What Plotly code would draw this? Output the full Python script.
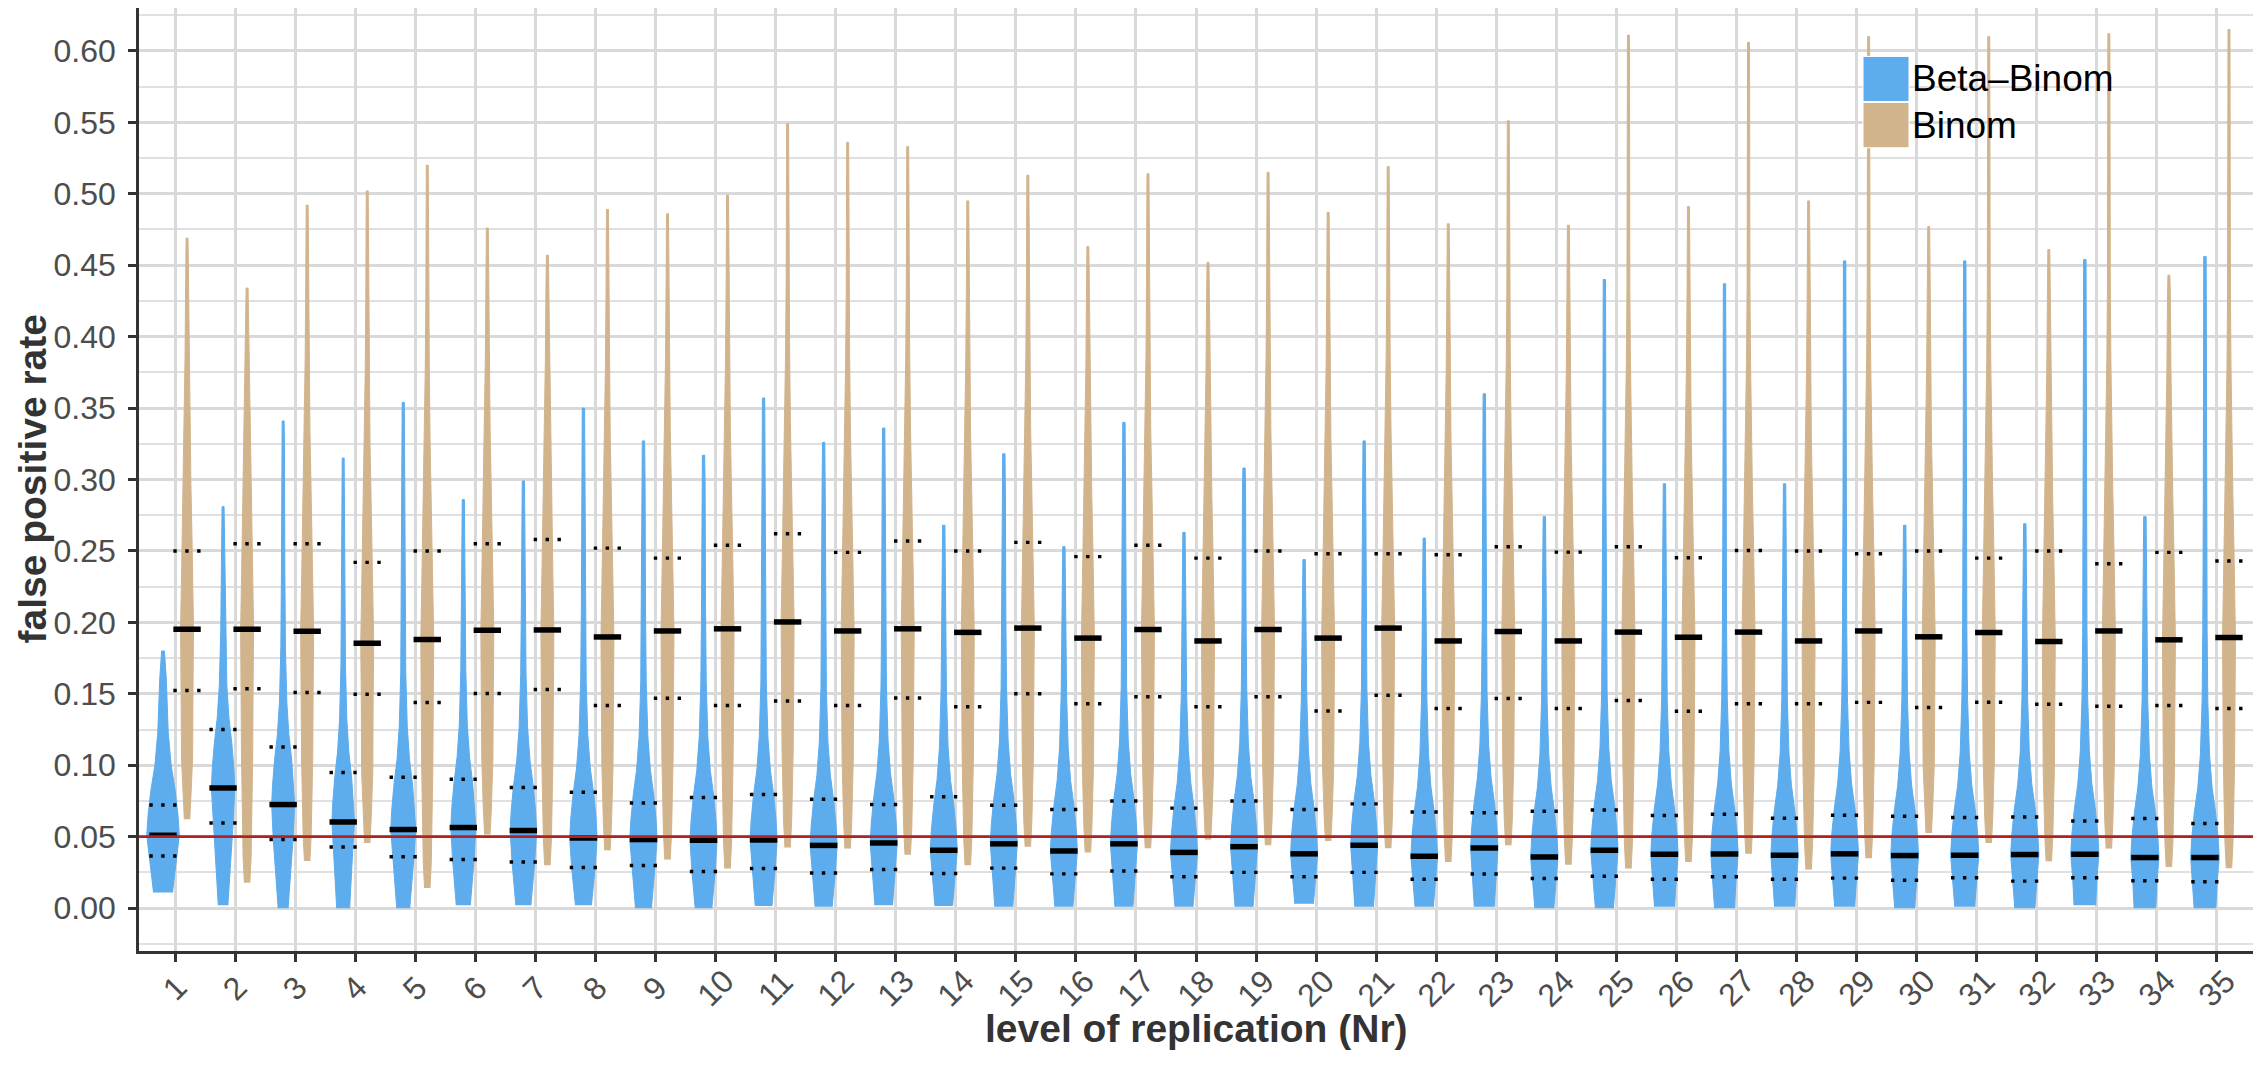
import plotly.graph_objects as go

# ---------------- data ----------------
nr_levels = list(range(1, 36))
tick_labels = [str(i) for i in nr_levels]

# Beta-Binom group
bb_min = [0.011, 0.002, 0.000, 0.000, 0.000, 0.002, 0.002, 0.002, 0.000, 0.000,
          0.0015, 0.001, 0.002, 0.0015, 0.001, 0.001, 0.001, 0.001, 0.001, 0.003,
          0.001, 0.001, 0.001, 0.000, 0.000, 0.001, 0.000, 0.001, 0.001, 0.000,
          0.001, 0.000, 0.002, 0.000, 0.000]
bb_max = [0.180, 0.281, 0.341, 0.315, 0.354, 0.286, 0.299, 0.350, 0.327, 0.317,
          0.357, 0.326, 0.336, 0.268, 0.318, 0.253, 0.340, 0.263, 0.308, 0.244,
          0.327, 0.259, 0.360, 0.274, 0.440, 0.297, 0.437, 0.297, 0.453, 0.268,
          0.453, 0.269, 0.454, 0.274, 0.456]
bb_q1 = [0.0365, 0.0596, 0.048, 0.0428, 0.036, 0.034, 0.0323, 0.0284, 0.0298, 0.0256,
         0.0277, 0.0246, 0.027, 0.0242, 0.028, 0.024, 0.026, 0.022, 0.025, 0.022,
         0.025, 0.0202, 0.0239, 0.0207, 0.0223, 0.0202, 0.022, 0.0202, 0.021, 0.0195,
         0.0213, 0.0189, 0.0213, 0.0192, 0.0185]
bb_med = [0.051, 0.0841, 0.0725, 0.0603, 0.055, 0.0564, 0.0543, 0.0491, 0.048, 0.0475,
          0.0477, 0.0439, 0.0456, 0.0405, 0.045, 0.040, 0.045, 0.039, 0.043, 0.038,
          0.044, 0.0363, 0.0421, 0.0358, 0.0405, 0.0377, 0.0379, 0.037, 0.038, 0.0368,
          0.037, 0.0375, 0.0377, 0.0354, 0.0354]
bb_q3 = [0.0722, 0.125, 0.1128, 0.0949, 0.0916, 0.0902, 0.0844, 0.0811, 0.0736, 0.0774,
         0.0795, 0.0762, 0.0725, 0.078, 0.072, 0.069, 0.075, 0.070, 0.075, 0.069,
         0.073, 0.0673, 0.0668, 0.0678, 0.0687, 0.0648, 0.0657, 0.0629, 0.065, 0.0643,
         0.0634, 0.0638, 0.061, 0.0627, 0.0592]
# half-widths (x-axis units) at the widest point and at the trimmed bottom
bb_wmax = [0.271, 0.195, 0.191, 0.188, 0.208, 0.208, 0.22, 0.228, 0.228, 0.225,
           0.225, 0.225, 0.225, 0.225, 0.225, 0.225, 0.225, 0.225, 0.225, 0.225,
           0.225, 0.222, 0.228, 0.228, 0.228, 0.228, 0.228, 0.228, 0.232, 0.232,
           0.235, 0.235, 0.235, 0.235, 0.238]
bb_wbot = [0.158, 0.080, 0.083, 0.108, 0.108, 0.117, 0.125, 0.133, 0.133, 0.139,
           0.139, 0.142, 0.147, 0.147, 0.150, 0.150, 0.150, 0.150, 0.150, 0.155,
           0.155, 0.153, 0.166, 0.158, 0.150, 0.166, 0.166, 0.166, 0.166, 0.166,
           0.166, 0.166, 0.180, 0.180, 0.180]

# Binom group
bn_min = [0.0622, 0.0178, 0.033, 0.0456, 0.0141, 0.0515, 0.030, 0.0405, 0.034, 0.0277,
          0.0424, 0.0417, 0.0374, 0.030, 0.043, 0.039, 0.042, 0.048, 0.044, 0.047,
          0.042, 0.0323, 0.044, 0.0304, 0.0277, 0.0323, 0.038, 0.027, 0.035, 0.0526,
          0.0456, 0.0328, 0.0417, 0.0288, 0.028]
bn_max = [0.469, 0.434, 0.492, 0.502, 0.520, 0.476, 0.457, 0.489, 0.486, 0.499,
          0.549, 0.536, 0.533, 0.495, 0.513, 0.463, 0.514, 0.452, 0.515, 0.487,
          0.519, 0.479, 0.551, 0.478, 0.611, 0.491, 0.606, 0.495, 0.610, 0.477,
          0.610, 0.461, 0.612, 0.443, 0.615]
bn_q1 = [0.1523, 0.1535, 0.1509, 0.1497, 0.1439, 0.1502, 0.153, 0.1418, 0.1469, 0.1418,
         0.145, 0.1418, 0.1471, 0.141, 0.150, 0.143, 0.148, 0.141, 0.148, 0.138,
         0.149, 0.1397, 0.1467, 0.1397, 0.1453, 0.1378, 0.143, 0.143, 0.144, 0.1404,
         0.1441, 0.1427, 0.1413, 0.1418, 0.1397]
bn_med = [0.1952, 0.1952, 0.1938, 0.1854, 0.188, 0.1945, 0.1947, 0.1898, 0.194, 0.1955,
          0.2003, 0.194, 0.1955, 0.193, 0.196, 0.189, 0.195, 0.187, 0.195, 0.189,
          0.196, 0.187, 0.1936, 0.187, 0.1932, 0.1896, 0.1932, 0.187, 0.194, 0.1899,
          0.1929, 0.1866, 0.194, 0.1878, 0.1894]
bn_q3 = [0.250, 0.255, 0.255, 0.242, 0.250, 0.255, 0.258, 0.252, 0.245, 0.254,
         0.262, 0.249, 0.257, 0.250, 0.256, 0.246, 0.254, 0.245, 0.250, 0.248,
         0.248, 0.2473, 0.2529, 0.2492, 0.2529, 0.2452, 0.2503, 0.250, 0.248, 0.250,
         0.245, 0.250, 0.241, 0.249, 0.243]
bn_wmax = [0.108] * 35

group_names = ["Beta\u2013Binom", "Binom"]
group_colors = ["#5CACEE", "#D2B48C"]

# ---------------- drawing helpers ----------------
DODGE = 0.2
SEG_HALF = 0.228
FONT = "Liberation Sans, Arial, sans-serif"


def bb_knots(lo, hi, q1, med, wmax, wbot):
    pts = [(lo, wbot)]
    cand = [(q1, 0.86), (med, 1.0), (med + 0.014, 0.92), (med + 0.031, 0.75),
            (med + 0.049, 0.50), (med + 0.072, 0.32), (med + 0.11, 0.20),
            (med + 0.16, 0.15), (med + 0.25, 0.115)]
    for y, f in cand:
        if pts[-1][0] + 0.004 < y < hi - 0.01:
            pts.append((y, f * wmax))
    pts.append((hi, 0.085 * wmax))
    return pts


def bn_knots(lo, hi, q1, med, wmax):
    pts = [(lo, 0.42 * wmax)]
    cand = [(lo + 0.018, 0.62), (med - 0.09, 0.86), (q1, 0.92), (med, 1.0),
            (med + 0.035, 0.86), (med + 0.065, 0.76), (med + 0.10, 0.60),
            (med + 0.14, 0.43), (med + 0.19, 0.31), (med + 0.24, 0.22), (med + 0.30, 0.17)]
    for y, f in sorted(cand):
        if pts[-1][0] + 0.006 < y < hi - 0.01:
            pts.append((y, f * wmax))
    pts.append((hi, 0.15 * wmax))
    return pts


def outline(xc, knots):
    ys = [k[0] for k in knots]
    ws = [k[1] for k in knots]
    xs = [xc - w for w in ws] + [xc + w for w in reversed(ws)]
    yy = ys + ys[::-1]
    return xs, yy


fig = go.Figure()

for gi, (name, col) in enumerate(zip(group_names, group_colors)):
    off = -DODGE if gi == 0 else DODGE
    for i, lvl in enumerate(nr_levels):
        xc = lvl + off
        if gi == 0:
            kn = bb_knots(bb_min[i], bb_max[i], bb_q1[i], bb_med[i], bb_wmax[i], bb_wbot[i])
        else:
            kn = bn_knots(bn_min[i], bn_max[i], bn_q1[i], bn_med[i], bn_wmax[i])
        xs, ys = outline(xc, kn)
        fig.add_trace(go.Scatter(
            x=xs, y=ys, mode="lines", fill="toself", fillcolor=col,
            line=dict(color=col, width=1),
            name=name, legendgroup=name, showlegend=False, hoverinfo="skip"))

# reference line at 0.05
fig.add_shape(type="line", xref="paper", yref="y", x0=0, x1=1, y0=0.05, y1=0.05,
              line=dict(color="#B22222", width=2.8), layer="above")

# quantile segments
for gi in range(2):
    off = -DODGE if gi == 0 else DODGE
    meds = bb_med if gi == 0 else bn_med
    q1s = bb_q1 if gi == 0 else bn_q1
    q3s = bb_q3 if gi == 0 else bn_q3
    mx, my = [], []
    for i, lvl in enumerate(nr_levels):
        mx += [lvl + off - SEG_HALF, lvl + off + SEG_HALF, None]
        my += [meds[i], meds[i], None]
    fig.add_trace(go.Scatter(x=mx, y=my, mode="lines", line=dict(color="black", width=5.5),
                             showlegend=False, hoverinfo="skip"))
    for qs in (q1s, q3s):
        for i, lvl in enumerate(nr_levels):
            fig.add_trace(go.Scatter(
                x=[lvl + off - SEG_HALF, lvl + off + SEG_HALF], y=[qs[i], qs[i]],
                mode="lines", line=dict(color="black", width=3.4, dash="3.4px,8.5px"),
                showlegend=False, hoverinfo="skip"))

# ---------------- layout geometry (pixels) ----------------
# The page body adds an 8px margin, so the figure is drawn 8px smaller and
# every reference pixel position is shifted by that amount.
PAGE_OFF = 8
FIG_W, FIG_H = 2261 - PAGE_OFF, 1066 - PAGE_OFF
L, T = 139 - PAGE_OFF, 8.3 - PAGE_OFF
PW, PH = 2114, 942.4
BOTTOM = T + PH


def px2paper(px, py):
    """reference-picture pixel -> paper coordinates"""
    return (px - PAGE_OFF - L) / PW, (BOTTOM - (py - PAGE_OFF)) / PH


# manual legend (large square keys as in the reference)
key_x0, key_x1 = 1863, 1909
key_rows = [(56.7, 101.7), (102.7, 148.0)]
for (y0, y1), name, col in zip(key_rows, group_names, group_colors):
    ax0, ay1 = px2paper(key_x0, y0)
    ax1, ay0 = px2paper(key_x1, y1)
    fig.add_shape(type="rect", xref="paper", yref="paper", x0=ax0, x1=ax1, y0=ay0, y1=ay1,
                  fillcolor=col, line=dict(color="white", width=1), layer="above")
    tx, ty = px2paper(1910, (y0 + y1) / 2)
    fig.add_annotation(xref="paper", yref="paper", x=tx, y=ty, text=name, showarrow=False,
                       xanchor="left", yanchor="middle",
                       font=dict(family=FONT, size=37, color="black"))

# x tick labels, rotated 45 degrees and centred under each tick
REF_BOTTOM = 950.7
for lvl, lab in zip(nr_levels, tick_labels):
    fig.add_annotation(xref="x", yref="paper", x=lvl, y=0, yshift=-(988 - REF_BOTTOM),
                       text=lab, textangle=-45, showarrow=False,
                       xanchor="center", yanchor="middle",
                       font=dict(family=FONT, size=32, color="#4D4D4D"))

# axis titles
fig.add_annotation(xref="paper", yref="paper", x=0.5, y=0, yshift=-(1028 - REF_BOTTOM),
                   text="<b>level of replication (Nr)</b>", showarrow=False,
                   xanchor="center", yanchor="middle",
                   font=dict(family=FONT, size=39, color="#333333"))
fig.add_annotation(xref="paper", yref="paper", x=0, y=0.5, xshift=-(139 - 32),
                   text="<b>false positive rate</b>", textangle=-90, showarrow=False,
                   xanchor="center", yanchor="middle",
                   font=dict(family=FONT, size=39, color="#333333"))

fig.update_layout(
    width=FIG_W, height=FIG_H,
    margin=dict(l=L, r=FIG_W - L - PW, t=T, b=FIG_H - BOTTOM, autoexpand=False),
    paper_bgcolor="white", plot_bgcolor="white",
    showlegend=False,
    font=dict(family=FONT),
    xaxis=dict(
        range=[0.4, 35.6], tickmode="array", tickvals=nr_levels, ticktext=tick_labels,
        showticklabels=False, automargin=False,
        ticks="outside", ticklen=8, tickwidth=2.5, tickcolor="#333333",
        showgrid=True, gridcolor="#D9D9D9", gridwidth=2.5,
        showline=True, linecolor="#333333", linewidth=2.5, mirror=True, zeroline=False,
    ),
    yaxis=dict(
        range=[-0.030, 0.630], tickmode="linear", tick0=0, dtick=0.05, tickformat=".2f",
        tickfont=dict(size=32, color="#4D4D4D", family=FONT), automargin=False,
        ticks="outside", ticklen=8, tickwidth=2.5, tickcolor="#333333",
        ticklabelstandoff=6,
        showgrid=True, gridcolor="#D9D9D9", gridwidth=2.5,
        minor=dict(dtick=0.025, showgrid=True, gridcolor="#E0E0E0", gridwidth=1.5, ticks=""),
        showline=True, linecolor="#333333", linewidth=2.5, mirror=True, zeroline=False,
    ),
)

fig.write_html("out.html")
